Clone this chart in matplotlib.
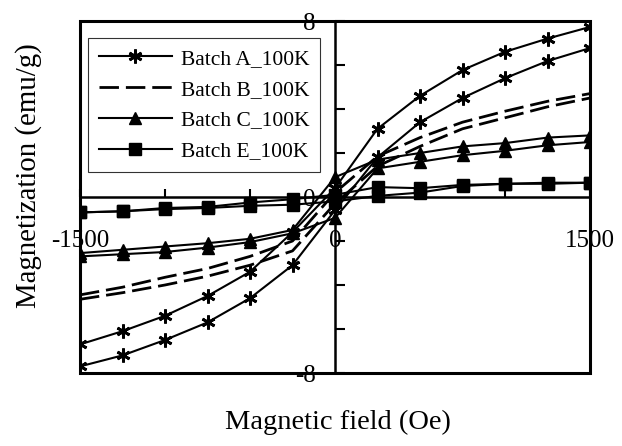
import matplotlib
matplotlib.use("Agg")
import matplotlib.pyplot as plt
import numpy as np

plt.rcParams['font.family'] = ['Liberation Serif', 'DejaVu Serif']

# field values (Oe), same for every branch
field = [-1500, -1250, -1000, -750, -500, -250, 0, 250, 500, 750, 1000, 1250, 1500]

# magnetization (emu/g), two branches per batch
batch_a_up = [-6.7, -6.1, -5.4, -4.5, -3.4, -1.6, 0.4, 3.1, 4.6, 5.77, 6.6, 7.2, 7.73]
batch_a_lo = [-7.7, -7.2, -6.5, -5.7, -4.6, -3.1, -0.6, 1.8, 3.4, 4.5, 5.4, 6.18, 6.77]
batch_b_up = [-4.45, -4.1, -3.65, -3.25, -2.7, -2.0, 0.2, 1.85, 2.7, 3.4, 3.9, 4.35, 4.7]
batch_b_lo = [-4.65, -4.35, -4.0, -3.6, -3.1, -2.45, -0.3, 1.4, 2.3, 3.1, 3.6, 4.1, 4.5]
batch_c_up = [-2.55, -2.4, -2.25, -2.1, -1.9, -1.5, 0.9, 1.7, 2.0, 2.3, 2.45, 2.7, 2.8]
batch_c_lo = [-2.7, -2.6, -2.5, -2.3, -2.05, -1.65, -0.95, 1.3, 1.6, 1.9, 2.1, 2.35, 2.5]
batch_e_up = [-0.7, -0.65, -0.5, -0.45, -0.25, -0.1, 0.1, 0.45, 0.4, 0.55, 0.6, 0.65, 0.65]
batch_e_lo = [-0.7, -0.65, -0.55, -0.5, -0.4, -0.35, -0.2, 0.05, 0.2, 0.5, 0.6, 0.6, 0.65]

labels = ['Batch A_100K', 'Batch B_100K', 'Batch C_100K', 'Batch E_100K']

fig = plt.figure(figsize=(6.22, 4.46), dpi=100)
ax = fig.add_axes([80/622, 1-373/446, 510/622, 352/446])

star = (6, 2, 0)
lw = 1.5

# batch A
ax.plot(field, batch_a_up, 'k-', lw=lw, marker=star, ms=10, mew=2, label=labels[0])
ax.plot(field, batch_a_lo, 'k-', lw=lw, marker=star, ms=10, mew=2)
# batch B (dashed, no markers)
ax.plot(field, batch_b_up, 'k--', lw=2, dashes=(7, 2.5), label=labels[1])
ax.plot(field, batch_b_lo, 'k--', lw=2, dashes=(7, 2.5))
# batch C
ax.plot(field, batch_c_up, 'k-', lw=lw, marker='^', ms=8.5, label=labels[2])
ax.plot(field, batch_c_lo, 'k-', lw=lw, marker='^', ms=8.5)
# batch E
ax.plot(field, batch_e_up, 'k-', lw=lw, marker='s', ms=8, label=labels[3])
ax.plot(field, batch_e_lo, 'k-', lw=lw, marker='s', ms=8)

ax.set_xlim(-1500, 1500)
ax.set_ylim(-8, 8)

# axes cross at the origin, frame drawn by the axes patch
ax.spines['left'].set_position(('data', 0))
ax.spines['bottom'].set_position(('data', 0))
for s in ['left', 'bottom']:
    ax.spines[s].set_linewidth(1.8)
for s in ['top', 'right']:
    ax.spines[s].set_visible(False)
ax.patch.set_edgecolor('black')
ax.patch.set_linewidth(2.2)

ax.set_xticks([-1500, 0, 1500])
ax.set_xticks(np.arange(-1500, 1501, 500), minor=True)
ax.set_yticks([-8, 0, 8])
ax.set_yticks(np.arange(-8, 9, 2), minor=True)
ax.set_xticklabels(['-1500', '0', '1500'])
ax.set_yticklabels(['-8', '0', '8'])
ax.tick_params(axis='x', which='both', direction='in', length=6, width=1.5, pad=24, labelsize=18)
ax.tick_params(axis='y', which='both', direction='in', length=7, width=1.5, pad=14, labelsize=18)

fig.text(338/622, 1-422/446, 'Magnetic field (Oe)', ha='center', va='center', fontsize=20.5)
fig.text(29/622, 1-176/446, 'Magnetization (emu/g)', ha='center', va='center',
         rotation=90, fontsize=20.8)

leg = ax.legend(loc='upper left', bbox_to_anchor=(88/622, 1-38/446),
                bbox_transform=fig.transFigure, borderaxespad=0, fontsize=15.5,
                frameon=True, fancybox=False, handlelength=3.4, handletextpad=0.4,
                labelspacing=0.5, borderpad=0.5)
leg.get_frame().set_edgecolor('black')
leg.get_frame().set_linewidth(0.8)

fig.savefig('out.png', dpi=100)
